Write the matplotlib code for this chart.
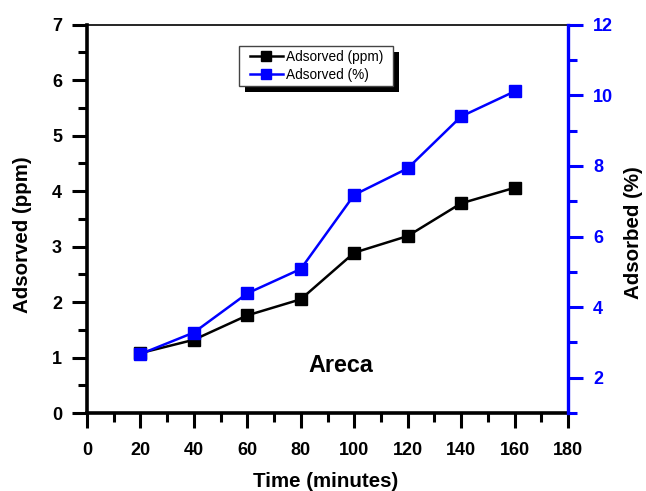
import matplotlib
matplotlib.use('Agg')
import matplotlib.pyplot as plt
from matplotlib.patches import Rectangle
from matplotlib.transforms import IdentityTransform
from matplotlib.ticker import MultipleLocator

plt.rcParams['font.family'] = ['Liberation Sans', 'DejaVu Sans']

# ---- data ----
time_min = [20, 40, 60, 80, 100, 120, 140, 160]
adsorbed_ppm = [1.08, 1.32, 1.76, 2.05, 2.89, 3.19, 3.78, 4.06]
adsorbed_pct = [2.67, 3.28, 4.39, 5.08, 7.18, 7.93, 9.40, 10.11]
x_ticks = [0, 20, 40, 60, 80, 100, 120, 140, 160, 180]
left_ticks = [0, 1, 2, 3, 4, 5, 6, 7]
right_ticks = [2, 4, 6, 8, 10, 12]

BLUE = '#0000ff'

fig = plt.figure(figsize=(6.46, 4.91), dpi=100)
ax = fig.add_axes([87/646, 1-413/491, (568-87)/646, (413-24.7)/491])
ax2 = ax.twinx()

l1, = ax.plot(time_min, adsorbed_ppm, color='black', lw=1.8, marker='s', ms=8.6,
              label='Adsorved (ppm)')
l2, = ax2.plot(time_min, adsorbed_pct, color=BLUE, lw=1.8, marker='s', ms=8.6,
               label='Adsorved (%)')

ax.set_xlim(0, 180)
ax.set_ylim(0, 7)
ax2.set_ylim(1, 12)

ax.set_xticks(x_ticks)
ax.set_yticks(left_ticks)
ax2.set_yticks(right_ticks)
ax.xaxis.set_minor_locator(MultipleLocator(10))
ax.yaxis.set_minor_locator(MultipleLocator(0.5))
ax2.yaxis.set_minor_locator(MultipleLocator(1))

# spines
ax.spines['top'].set_linewidth(1.2)
ax.spines['left'].set_linewidth(2.6)
ax.spines['bottom'].set_linewidth(2.6)
ax.spines['right'].set_visible(False)
for s in ['top', 'left', 'bottom']:
    ax2.spines[s].set_visible(False)
ax2.spines['right'].set_color(BLUE)
ax2.spines['right'].set_linewidth(2.4)

ax.tick_params(axis='both', which='major', direction='out', length=11, width=2.2,
               labelsize=13, top=False, right=False)
ax.tick_params(axis='both', which='minor', direction='out', length=6.5, width=2.2,
               top=False, right=False)
ax.tick_params(axis='y', which='major', pad=7)
ax.tick_params(axis='x', which='major', pad=10)
ax2.tick_params(axis='y', which='major', direction='out', length=11, width=2.2,
                labelsize=13, colors=BLUE, pad=7)
ax2.tick_params(axis='y', which='minor', direction='out', length=6.5, width=2.2,
                colors=BLUE)

for t in ax.get_xticklabels() + ax.get_yticklabels() + ax2.get_yticklabels():
    t.set_fontweight('bold')

ax.set_xlabel('Time (minutes)', fontsize=14.8, fontweight='bold')
ax.xaxis.set_label_coords(0.497, -0.153)
ax.set_ylabel('Adsorved (ppm)', fontsize=14.8, fontweight='bold')
ax.yaxis.set_label_coords(-0.114, 0.459)
ax2.set_ylabel('Adsorbed (%)', fontsize=14.8, fontweight='bold', color='black')
ax2.yaxis.set_label_coords(1.116, 0.465)

ax.text(94.8, 0.745, 'Areca', fontsize=16.8, fontweight='bold', ha='center', va='baseline')

leg = ax2.legend([l1, l2], [l1.get_label(), l2.get_label()], loc='upper left',
                 bbox_to_anchor=((250-87)/481, (413-50)/388.3), borderaxespad=0,
                 fontsize=9.8, handlelength=2.4, handletextpad=0.25, labelspacing=0.3,
                 borderpad=0.0, frameon=False, markerscale=0.83)
leg.set_zorder(10)

fig.canvas.draw()
bb = leg.get_window_extent()
pad_l, pad_r, pad_t, pad_b = 11, 10, 4, 4
fx0, fy0 = bb.x0 - pad_l, bb.y0 - pad_b
fw, fh = bb.width + pad_l + pad_r, bb.height + pad_t + pad_b
shadow = Rectangle((fx0 + 6, fy0 - 6), fw, fh, transform=IdentityTransform(),
                   facecolor='black', edgecolor='none', zorder=9.8, clip_on=False)
frame = Rectangle((fx0, fy0), fw, fh, transform=IdentityTransform(),
                  facecolor='white', edgecolor='#444444', lw=1.0, zorder=9.9, clip_on=False)
ax2.add_artist(shadow)
ax2.add_artist(frame)

fig.savefig('out.png', dpi=100)
